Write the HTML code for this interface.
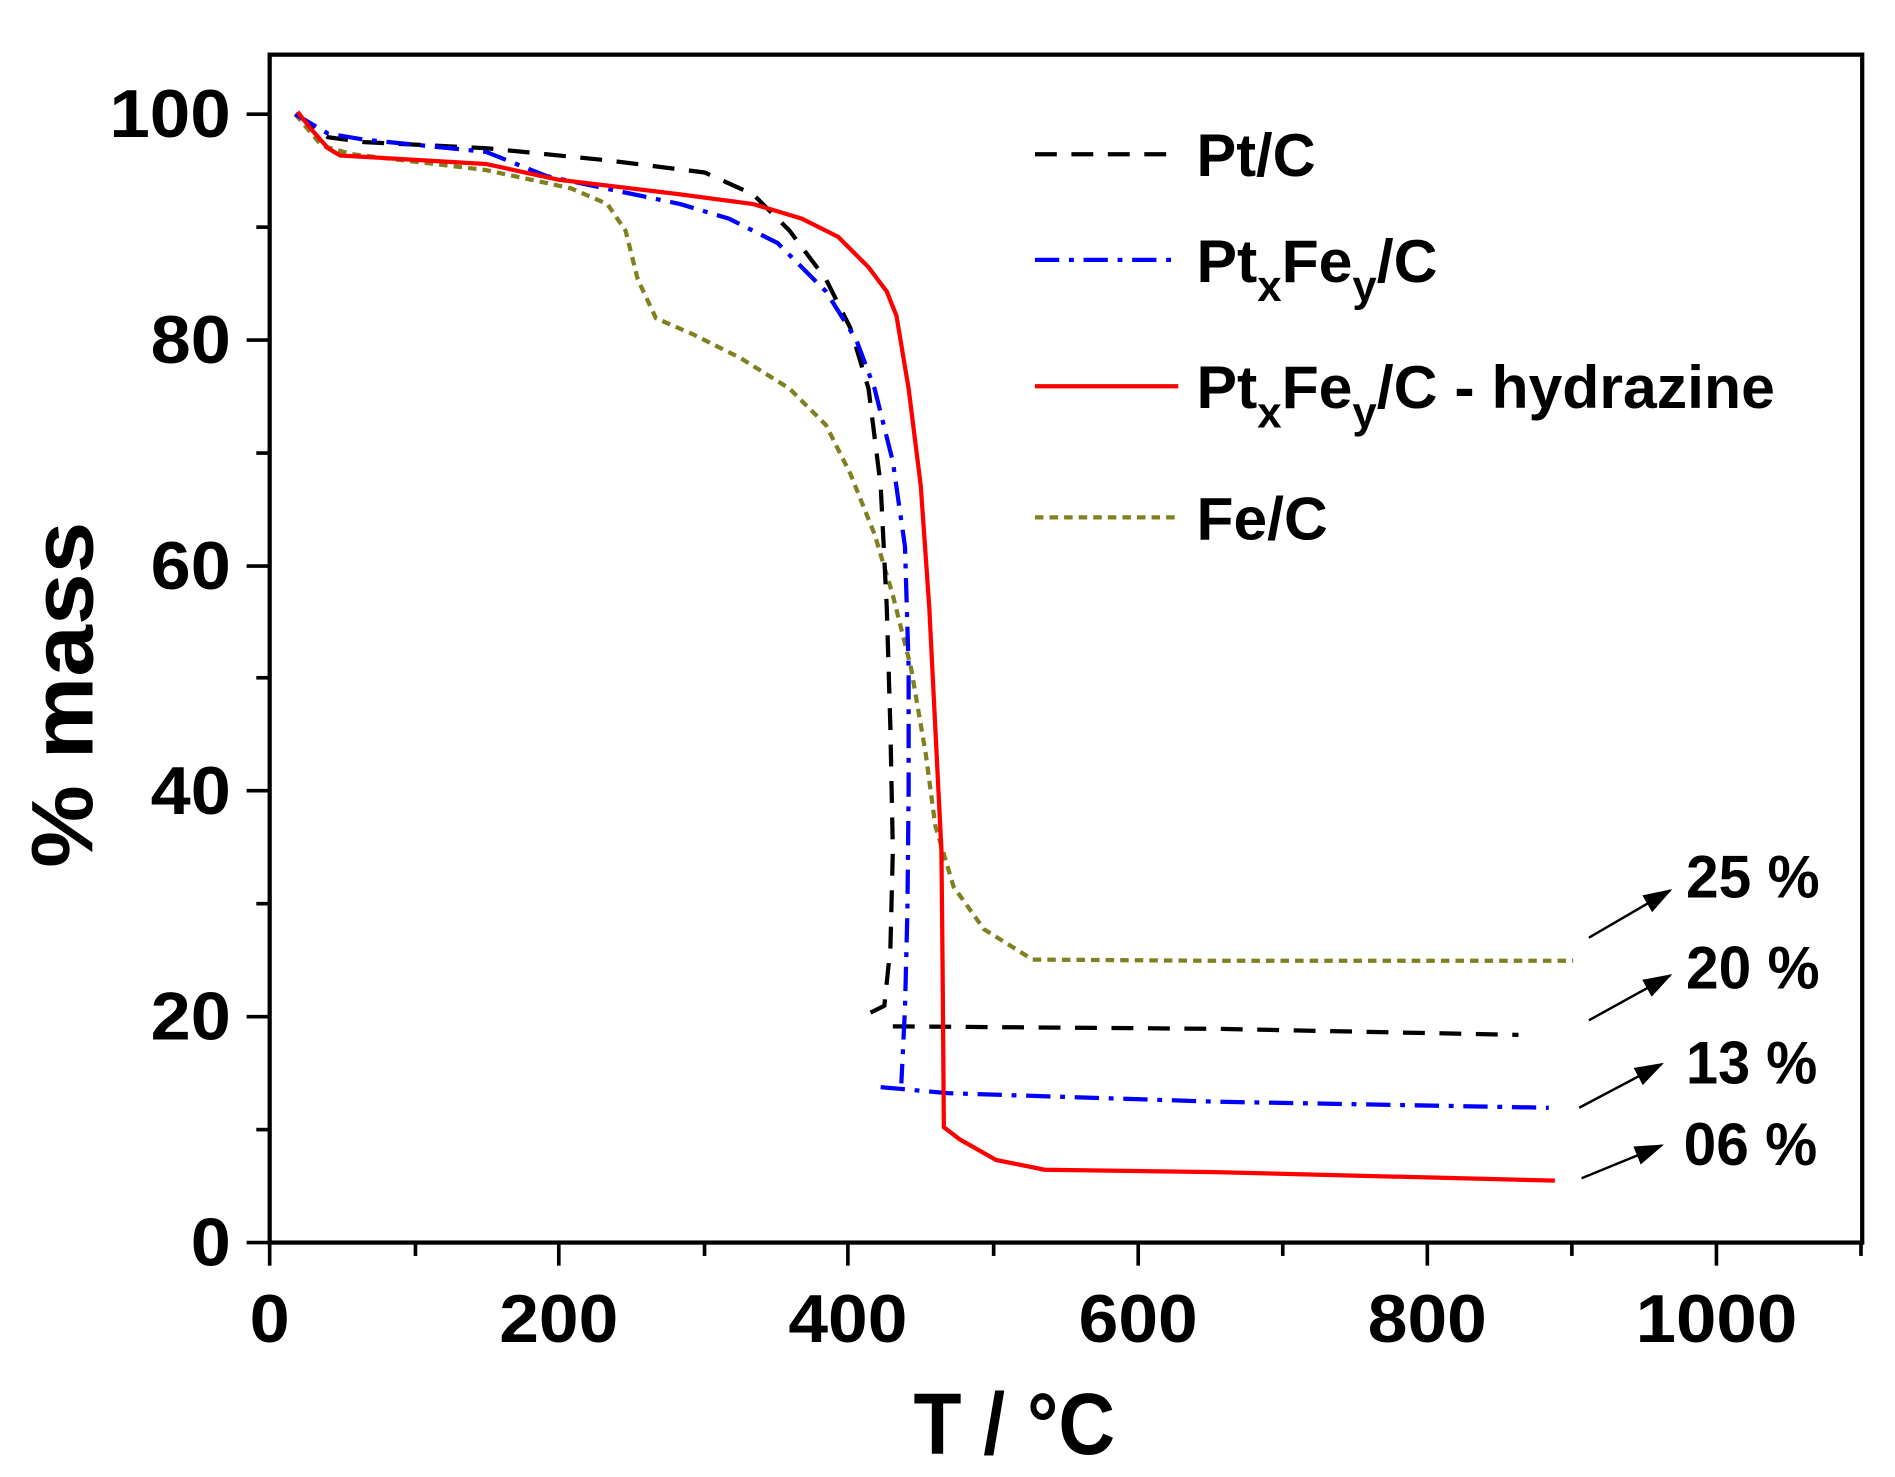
<!DOCTYPE html>
<html><head><meta charset="utf-8"><style>html,body{margin:0;padding:0;background:#fff}svg{display:block}</style></head>
<body>
<svg width="1895" height="1477" viewBox="0 0 1560 1216" preserveAspectRatio="none" xmlns="http://www.w3.org/2000/svg" font-family="Liberation Sans, sans-serif" font-weight="bold">
<rect x="222" y="45" width="1311" height="978" fill="none" stroke="#000" stroke-width="3.5"/>
<g stroke="#000" stroke-width="3">
<line x1="222" y1="1023" x2="222" y2="1042"/><line x1="342" y1="1023" x2="342" y2="1034"/>
<line x1="460" y1="1023" x2="460" y2="1042"/><line x1="580" y1="1023" x2="580" y2="1034"/>
<line x1="698" y1="1023" x2="698" y2="1042"/><line x1="818" y1="1023" x2="818" y2="1034"/>
<line x1="937" y1="1023" x2="937" y2="1042"/><line x1="1056" y1="1023" x2="1056" y2="1034"/>
<line x1="1175" y1="1023" x2="1175" y2="1042"/><line x1="1294" y1="1023" x2="1294" y2="1034"/>
<line x1="1413" y1="1023" x2="1413" y2="1042"/><line x1="1532" y1="1023" x2="1532" y2="1034"/>
<line x1="203" y1="1023" x2="222" y2="1023"/><line x1="211" y1="930" x2="222" y2="930"/>
<line x1="203" y1="837" x2="222" y2="837"/><line x1="211" y1="744" x2="222" y2="744"/>
<line x1="203" y1="651" x2="222" y2="651"/><line x1="211" y1="558" x2="222" y2="558"/>
<line x1="203" y1="466" x2="222" y2="466"/><line x1="211" y1="373" x2="222" y2="373"/>
<line x1="203" y1="280" x2="222" y2="280"/><line x1="211" y1="187" x2="222" y2="187"/>
<line x1="203" y1="94" x2="222" y2="94"/>
</g>
<g font-size="56" text-anchor="end" lengthAdjust="spacingAndGlyphs">
<text x="190" y="1042" textLength="33" lengthAdjust="spacingAndGlyphs">0</text>
<text x="190" y="856" textLength="66" lengthAdjust="spacingAndGlyphs">20</text>
<text x="190" y="670" textLength="66" lengthAdjust="spacingAndGlyphs">40</text>
<text x="190" y="485" textLength="66" lengthAdjust="spacingAndGlyphs">60</text>
<text x="190" y="299" textLength="66" lengthAdjust="spacingAndGlyphs">80</text>
<text x="190" y="113" textLength="100" lengthAdjust="spacingAndGlyphs">100</text>
</g>
<g font-size="56" text-anchor="middle">
<text x="222" y="1105" textLength="33" lengthAdjust="spacingAndGlyphs">0</text>
<text x="460" y="1105" textLength="98" lengthAdjust="spacingAndGlyphs">200</text>
<text x="698" y="1105" textLength="98" lengthAdjust="spacingAndGlyphs">400</text>
<text x="937" y="1105" textLength="98" lengthAdjust="spacingAndGlyphs">600</text>
<text x="1175" y="1105" textLength="98" lengthAdjust="spacingAndGlyphs">800</text>
<text x="1413" y="1105" textLength="133" lengthAdjust="spacingAndGlyphs">1000</text>
</g>
<text x="835" y="1197" font-size="72" text-anchor="middle" textLength="166" lengthAdjust="spacingAndGlyphs">T / °C</text>
<text transform="translate(76,572) rotate(-90)" font-size="72" text-anchor="middle" textLength="285" lengthAdjust="spacingAndGlyphs">% mass</text>
<g fill="none" stroke-width="3.5">
<polyline stroke="#808020" stroke-dasharray="7,5" points="243,94 265,120 290,127 400,140 470,155 500,168 515,190 525,230 540,262 570,275 610,295 650,320 680,350 700,390 720,440 735,490 750,550 762,620 770,680 785,730 810,765 850,790 1000,791 1295,791"/>
<path stroke="#000" stroke-dasharray="18,12" d="M245,94 L255,103 L270,113 L300,117 L400,122 L500,132 L580,142 L620,160 L650,190 L680,230 L700,270 L715,320 L725,400 L730,500 L733,600 L735,700 L733,780 L728,828 L708,838 M735,845 L1000,847 L1250,852"/>
<path stroke="#0000ff" stroke-dasharray="20,8,4,8" d="M243,94 L270,110 L300,115 L400,125 L450,145 L560,168 L600,180 L640,200 L680,240 L705,280 L720,320 L735,380 L745,450 L748,550 L748,650 L747,750 L745,830 L742,892 M725,895 L780,900 L1000,907 L1275,912"/>
<polyline stroke="#ff0000" points="245,92 255,105 270,122 280,128 400,135 460,148 560,160 620,168 660,180 690,195 715,220 730,240 738,260 748,320 758,400 765,500 770,600 775,700 776,800 777,928 790,938 820,955 860,963 1000,965 1280,972"/>
<line x1="852" y1="127" x2="970" y2="127" stroke="#000" stroke-dasharray="18,12"/>
<line x1="852" y1="214" x2="970" y2="214" stroke="#0000ff" stroke-dasharray="20,8,4,8"/>
<line x1="852" y1="318" x2="970" y2="318" stroke="#ff0000"/>
<line x1="852" y1="426" x2="970" y2="426" stroke="#808020" stroke-dasharray="7,5"/>
</g>
<g font-size="50">
<text x="985" y="145" textLength="98" lengthAdjust="spacingAndGlyphs">Pt/C</text>
<text x="985" y="232">Pt<tspan font-size="36" dy="16">x</tspan><tspan dy="-16">Fe</tspan><tspan font-size="36" dy="16">y</tspan><tspan dy="-16">/C</tspan></text>
<text x="985" y="336">Pt<tspan font-size="36" dy="16">x</tspan><tspan dy="-16">Fe</tspan><tspan font-size="36" dy="16">y</tspan><tspan dy="-16">/C - hydrazine</tspan></text>
<text x="985" y="444" textLength="108" lengthAdjust="spacingAndGlyphs">Fe/C</text>
<text x="1388" y="739" textLength="110" lengthAdjust="spacingAndGlyphs">25 %</text>
<text x="1388" y="814" textLength="110" lengthAdjust="spacingAndGlyphs">20 %</text>
<text x="1388" y="892" textLength="108" lengthAdjust="spacingAndGlyphs">13 %</text>
<text x="1386" y="959" textLength="110" lengthAdjust="spacingAndGlyphs">06 %</text>
</g>
<defs><marker id="ah" markerUnits="userSpaceOnUse" markerWidth="24" markerHeight="16" refX="22" refY="8" orient="auto"><path d="M0,0 L24,8 L0,16z" fill="#000"/></marker></defs>
<g stroke="#000" stroke-width="2" marker-end="url(#ah)">
<line x1="1308" y1="772" x2="1375" y2="733"/>
<line x1="1308" y1="840" x2="1375" y2="803"/>
<line x1="1300" y1="912" x2="1368" y2="876"/>
<line x1="1302" y1="970" x2="1368" y2="943"/>
</g>
</svg>
</body></html>
